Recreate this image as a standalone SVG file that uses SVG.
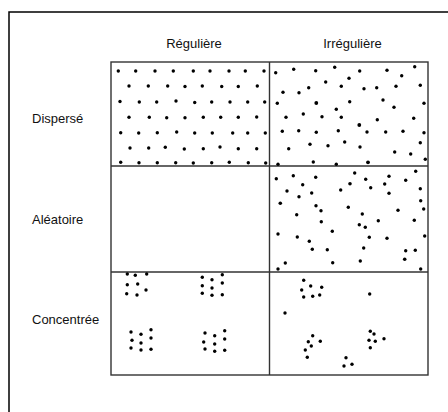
<svg xmlns="http://www.w3.org/2000/svg" width="448" height="412" viewBox="0 0 448 412">
<style>
.lbl{font-family:"Liberation Sans",Arial,sans-serif;font-size:13px;fill:#111}
.frame{fill:none;stroke:#000;stroke-width:1.5}
.grid{fill:none;stroke:#333;stroke-width:1.4}
.dots circle{fill:#000}
</style>
<rect width="448" height="412" fill="#fff"/>
<rect class="frame" x="9" y="12" width="460" height="420"/>
<g id="headers">
<text class="lbl" x="194" y="48" text-anchor="middle">Régulière</text>
<text class="lbl" x="352.5" y="48" text-anchor="middle">Irrégulière</text>
</g>
<g id="rowlabels">
<text class="lbl" x="32" y="123">Dispersé</text>
<text class="lbl" x="32" y="224">Aléatoire</text>
<text class="lbl" x="32" y="323.5">Concentrée</text>
</g>
<g id="grid">
<rect class="grid" x="111" y="62" width="317" height="313"/>
<line class="grid" x1="269.5" y1="62" x2="269.5" y2="375"/>
<line class="grid" x1="111" y1="166" x2="428" y2="166"/>
<line class="grid" x1="111" y1="272" x2="428" y2="272"/>
</g>
<g id="cell-disperse-reguliere" class="dots">
<circle cx="118.3" cy="71" r="1.7"/><circle cx="135.7" cy="71" r="1.7"/><circle cx="155" cy="71" r="1.7"/><circle cx="173.3" cy="71" r="1.7"/><circle cx="193.3" cy="71" r="1.7"/><circle cx="210" cy="71" r="1.7"/><circle cx="229" cy="71" r="1.7"/><circle cx="245.3" cy="71" r="1.7"/><circle cx="264" cy="71" r="1.7"/>
<circle cx="129" cy="86" r="1.7"/><circle cx="148.3" cy="86" r="1.7"/><circle cx="167.7" cy="86" r="1.7"/><circle cx="185" cy="86.5" r="1.7"/><circle cx="202.3" cy="86" r="1.7"/><circle cx="221.7" cy="86.5" r="1.7"/><circle cx="238.3" cy="86.5" r="1.7"/><circle cx="257.3" cy="86" r="1.7"/>
<circle cx="120" cy="101.5" r="1.7"/><circle cx="139.3" cy="102" r="1.7"/><circle cx="156.7" cy="102" r="1.7"/><circle cx="176" cy="101" r="1.7"/><circle cx="194.7" cy="102.5" r="1.7"/><circle cx="211.7" cy="102" r="1.7"/><circle cx="230" cy="102" r="1.7"/><circle cx="247.7" cy="102" r="1.7"/><circle cx="264.7" cy="102" r="1.7"/>
<circle cx="129" cy="117.3" r="1.7"/><circle cx="149.3" cy="117.3" r="1.7"/><circle cx="166.7" cy="117.7" r="1.7"/><circle cx="185" cy="117.7" r="1.7"/><circle cx="203.3" cy="117.3" r="1.7"/><circle cx="220.7" cy="117.3" r="1.7"/><circle cx="238.3" cy="117.3" r="1.7"/><circle cx="256.7" cy="117" r="1.7"/>
<circle cx="120.7" cy="132.7" r="1.7"/><circle cx="138.7" cy="133" r="1.7"/><circle cx="157.3" cy="132.7" r="1.7"/><circle cx="176.7" cy="132" r="1.7"/><circle cx="194.7" cy="133" r="1.7"/><circle cx="212.3" cy="133" r="1.7"/><circle cx="232.7" cy="133" r="1.7"/><circle cx="247.7" cy="133" r="1.7"/><circle cx="265.3" cy="133" r="1.7"/>
<circle cx="130" cy="148" r="1.7"/><circle cx="148.7" cy="148" r="1.7"/><circle cx="165.3" cy="147.3" r="1.7"/><circle cx="184.3" cy="149" r="1.7"/><circle cx="203.3" cy="148.7" r="1.7"/><circle cx="220" cy="147" r="1.7"/><circle cx="238.3" cy="148.7" r="1.7"/><circle cx="256.7" cy="148.7" r="1.7"/>
<circle cx="120.7" cy="162.3" r="1.7"/><circle cx="139" cy="162.7" r="1.7"/><circle cx="157.3" cy="162.7" r="1.7"/><circle cx="175.7" cy="162.7" r="1.7"/><circle cx="193.3" cy="163" r="1.7"/><circle cx="211.7" cy="162.7" r="1.7"/><circle cx="229.3" cy="162.3" r="1.7"/><circle cx="248.3" cy="162.7" r="1.7"/><circle cx="265.7" cy="163" r="1.7"/>
</g>
<g id="cell-disperse-irreguliere" class="dots">
<circle cx="275.7" cy="72.7" r="1.7"/><circle cx="293.7" cy="69.3" r="1.7"/><circle cx="315.7" cy="70.7" r="1.7"/><circle cx="334.7" cy="67.3" r="1.7"/><circle cx="359.7" cy="71" r="1.7"/><circle cx="387" cy="70.3" r="1.7"/><circle cx="414.7" cy="66.7" r="1.7"/><circle cx="401.7" cy="75.7" r="1.7"/><circle cx="349" cy="78.3" r="1.7"/><circle cx="325.7" cy="82" r="1.7"/>
<circle cx="283" cy="92.3" r="1.7"/><circle cx="299" cy="92.7" r="1.7"/><circle cx="308.7" cy="87.7" r="1.7"/><circle cx="341.3" cy="86.3" r="1.7"/><circle cx="364" cy="88.7" r="1.7"/><circle cx="376.7" cy="87.7" r="1.7"/><circle cx="396" cy="86.3" r="1.7"/><circle cx="420.3" cy="85.3" r="1.7"/>
<circle cx="277.3" cy="103.3" r="1.7"/><circle cx="316.3" cy="103" r="1.9"/><circle cx="349.7" cy="101.7" r="1.7"/><circle cx="383" cy="100" r="1.7"/><circle cx="394" cy="107.3" r="1.7"/><circle cx="424" cy="103.3" r="1.7"/>
<circle cx="286" cy="117.3" r="1.7"/><circle cx="303.3" cy="114" r="1.7"/><circle cx="322" cy="116.7" r="1.7"/><circle cx="336.3" cy="109.3" r="1.7"/><circle cx="341.3" cy="117.3" r="1.7"/><circle cx="377.3" cy="119.7" r="1.7"/><circle cx="413.7" cy="118.3" r="1.7"/><circle cx="359.3" cy="125" r="1.9"/>
<circle cx="282.3" cy="131.3" r="1.7"/><circle cx="298.7" cy="130.7" r="1.7"/><circle cx="316.3" cy="132.3" r="1.7"/><circle cx="338.3" cy="130.7" r="1.7"/><circle cx="367" cy="132" r="1.7"/><circle cx="385.7" cy="132" r="1.7"/><circle cx="403" cy="131.3" r="1.7"/><circle cx="424" cy="132.7" r="1.7"/>
<circle cx="288.7" cy="148.7" r="1.7"/><circle cx="310" cy="144.3" r="1.7"/><circle cx="328" cy="145.7" r="1.7"/><circle cx="344.7" cy="142" r="1.7"/><circle cx="360" cy="147" r="1.7"/><circle cx="394.7" cy="152" r="1.7"/><circle cx="410.7" cy="154" r="1.7"/><circle cx="420.3" cy="142.7" r="1.7"/><circle cx="425.3" cy="159.3" r="1.7"/>
<circle cx="278" cy="164.3" r="1.7"/><circle cx="313.3" cy="162" r="1.7"/><circle cx="336.3" cy="164.3" r="1.7"/><circle cx="368" cy="162.3" r="1.9"/>
</g>
<g id="cell-aleatoire-reguliere"></g>
<g id="cell-aleatoire-irreguliere" class="dots">
<circle cx="276.3" cy="178.7" r="1.7"/><circle cx="293.3" cy="175.7" r="1.7"/><circle cx="315.7" cy="177.3" r="1.7"/><circle cx="354.7" cy="173" r="1.7"/><circle cx="365.7" cy="179.3" r="1.7"/><circle cx="389" cy="176.3" r="1.7"/><circle cx="405.7" cy="180.3" r="1.7"/><circle cx="415.7" cy="171.3" r="1.7"/>
<circle cx="287" cy="191" r="1.7"/><circle cx="302.7" cy="184.7" r="1.7"/><circle cx="299" cy="196.7" r="1.7"/><circle cx="311.7" cy="193" r="1.7"/><circle cx="340.7" cy="190" r="1.7"/><circle cx="350" cy="183.7" r="1.8"/><circle cx="370.7" cy="187.7" r="1.7"/><circle cx="384.7" cy="184" r="1.7"/><circle cx="389" cy="193.3" r="1.7"/><circle cx="420.3" cy="188.7" r="1.7"/>
<circle cx="280.3" cy="203.3" r="1.8"/><circle cx="316" cy="205.7" r="1.7"/><circle cx="321" cy="210.7" r="1.7"/><circle cx="348.3" cy="207.3" r="1.7"/><circle cx="362.3" cy="214" r="1.7"/><circle cx="398" cy="210.3" r="1.7"/><circle cx="420.7" cy="200.7" r="1.7"/><circle cx="423.7" cy="209" r="1.7"/>
<circle cx="296.7" cy="214.7" r="1.7"/><circle cx="321.3" cy="221.7" r="1.7"/><circle cx="378.3" cy="220.7" r="1.7"/><circle cx="359.3" cy="224.7" r="1.7"/><circle cx="365.3" cy="227.3" r="1.7"/><circle cx="414.3" cy="220.3" r="1.7"/>
<circle cx="278" cy="234" r="1.7"/><circle cx="297.3" cy="237" r="1.7"/><circle cx="309.3" cy="241.3" r="1.7"/><circle cx="332.3" cy="231.3" r="1.7"/><circle cx="369.3" cy="237.3" r="1.7"/><circle cx="387" cy="238.3" r="1.7"/><circle cx="424.7" cy="236" r="1.7"/>
<circle cx="312.3" cy="249.3" r="1.7"/><circle cx="327.3" cy="249.7" r="1.7"/><circle cx="363.7" cy="248" r="1.7"/><circle cx="405.7" cy="250.7" r="1.7"/><circle cx="415.3" cy="250.3" r="1.7"/><circle cx="404.7" cy="259.3" r="1.8"/>
<circle cx="285.3" cy="263" r="1.7"/><circle cx="332.7" cy="262.7" r="1.7"/><circle cx="360.3" cy="261" r="1.7"/><circle cx="278" cy="269" r="1.7"/><circle cx="420.7" cy="269" r="1.7"/>
</g>
<g id="cell-concentree-reguliere" class="dots">
<circle cx="127.3" cy="274" r="1.7"/><circle cx="135.3" cy="275.3" r="1.7"/><circle cx="146.7" cy="274" r="1.7"/><circle cx="127.3" cy="284.7" r="1.7"/><circle cx="137.7" cy="284" r="1.7"/><circle cx="126.7" cy="293.7" r="1.7"/><circle cx="137" cy="295" r="1.7"/><circle cx="146" cy="290" r="1.7"/>
<circle cx="202.3" cy="277.3" r="1.7"/><circle cx="212" cy="279.7" r="1.7"/><circle cx="222.3" cy="274.7" r="1.7"/><circle cx="202.3" cy="285.7" r="1.7"/><circle cx="212" cy="288" r="1.7"/><circle cx="222.3" cy="283" r="1.7"/><circle cx="202.3" cy="293.3" r="1.7"/><circle cx="212" cy="295.3" r="1.7"/><circle cx="222.3" cy="294.7" r="1.7"/>
<circle cx="131" cy="332" r="1.7"/><circle cx="141" cy="334.3" r="1.7"/><circle cx="151" cy="329.7" r="1.7"/><circle cx="132" cy="340.3" r="1.7"/><circle cx="141" cy="343" r="1.7"/><circle cx="151" cy="338" r="1.7"/><circle cx="131" cy="348" r="1.7"/><circle cx="141" cy="350" r="1.7"/><circle cx="151" cy="349.3" r="1.7"/>
<circle cx="205" cy="333" r="1.7"/><circle cx="214.7" cy="335.7" r="1.7"/><circle cx="224.7" cy="330.7" r="1.7"/><circle cx="203.7" cy="342" r="1.7"/><circle cx="214.7" cy="344" r="1.7"/><circle cx="224.7" cy="339" r="1.7"/><circle cx="205" cy="349" r="1.7"/><circle cx="214.7" cy="351.3" r="1.7"/><circle cx="224.7" cy="350.3" r="1.7"/>
</g>
<g id="cell-concentree-irreguliere" class="dots">
<circle cx="303.7" cy="280.3" r="1.7"/><circle cx="310.7" cy="286" r="1.7"/><circle cx="321.7" cy="287.3" r="1.7"/><circle cx="301.7" cy="290" r="1.7"/><circle cx="303.7" cy="297" r="1.7"/><circle cx="312.7" cy="296.3" r="1.7"/><circle cx="319.7" cy="295" r="1.7"/><circle cx="369.7" cy="294" r="1.7"/>
<circle cx="285" cy="313" r="1.7"/>
<circle cx="312.7" cy="335.7" r="1.7"/><circle cx="308.3" cy="341.7" r="1.7"/><circle cx="320.3" cy="341.3" r="1.7"/><circle cx="311.3" cy="346" r="1.7"/><circle cx="305.3" cy="350" r="1.7"/><circle cx="307.3" cy="357.3" r="1.7"/>
<circle cx="370.3" cy="331.3" r="1.7"/><circle cx="374" cy="334" r="1.7"/><circle cx="384" cy="338.7" r="1.7"/><circle cx="369" cy="340.3" r="1.7"/><circle cx="375.3" cy="341.3" r="1.7"/><circle cx="370.3" cy="347.7" r="1.7"/>
<circle cx="346" cy="357.7" r="1.7"/><circle cx="352" cy="364.3" r="1.7"/><circle cx="344" cy="366" r="1.7"/>
</g>
</svg>
